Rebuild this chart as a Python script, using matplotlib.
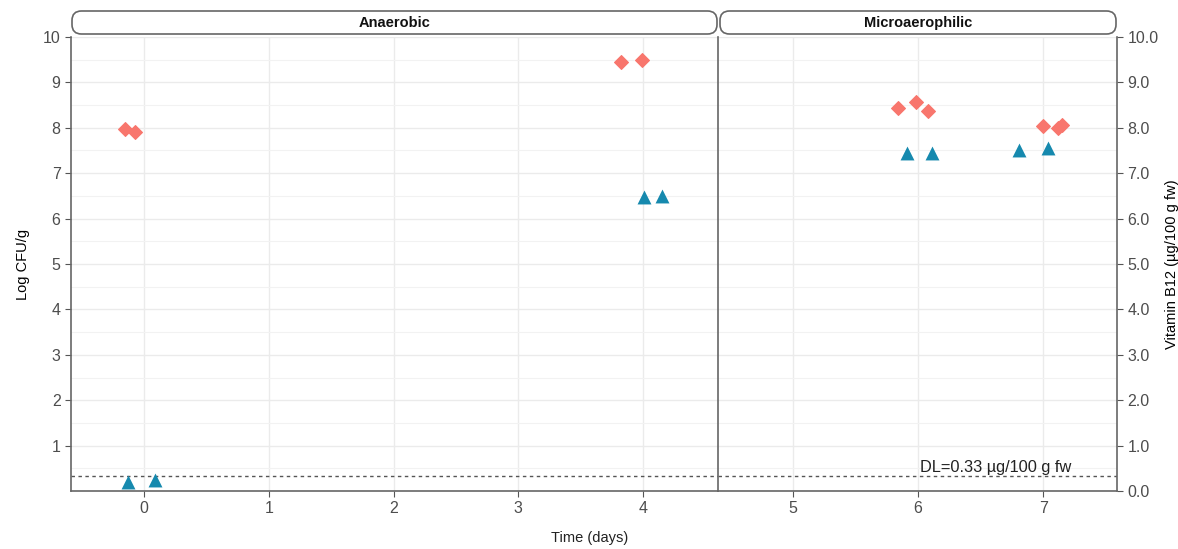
import matplotlib
matplotlib.use("Agg")
import matplotlib.pyplot as plt
from matplotlib.patches import FancyBboxPatch
from matplotlib.ticker import MultipleLocator, FormatStrFormatter

plt.rcParams['font.family'] = ['Liberation Sans', 'DejaVu Sans']

# Anaerobic panel
an_cfu_x = [-0.15, -0.07, 3.82, 3.99]
an_cfu_y = [7.97, 7.91, 9.46, 9.50]
an_b12_x = [-0.13, 0.09, 4.01, 4.15]
an_b12_y = [0.20, 0.25, 6.48, 6.50]

# Microaerophilic panel
mi_cfu_x = [5.84, 5.98, 6.08, 7.00, 7.12, 7.15]
mi_cfu_y = [8.43, 8.57, 8.38, 8.05, 7.99, 8.06]
mi_b12_x = [5.91, 6.11, 6.81, 7.04]
mi_b12_y = [7.45, 7.45, 7.50, 7.55]

panels = ['Anaerobic', 'Microaerophilic']
dl_value = 0.33
dl_label = 'DL=0.33 µg/100 g fw'

red = '#F8766D'
blue = '#1689AE'
grey = '#4D4D4D'
W, H = 1178, 549

fig = plt.figure(figsize=(W / 100, H / 100), dpi=100)

def px_axes(x0, x1, y_top, y_bot):
    return fig.add_axes([x0 / W, (H - y_bot) / H, (x1 - x0) / W, (y_bot - y_top) / H])

ax1 = px_axes(71, 718, 37, 491)
ax2 = px_axes(718, 1117, 37, 491)

ax1.set_xlim(-0.585, 4.6)
ax2.set_xlim(4.4, 7.59)

for ax in (ax1, ax2):
    ax.set_ylim(0, 10)
    ax.set_axisbelow(True)
    ax.xaxis.set_major_locator(MultipleLocator(1))
    ax.yaxis.set_major_locator(MultipleLocator(1))
    ax.yaxis.set_minor_locator(MultipleLocator(0.5))
    ax.grid(True, which='major', color='#EBEBEB', lw=1.0)
    ax.grid(True, which='minor', axis='y', color='#F2F2F2', lw=0.8)
    ax.tick_params(which='minor', length=0)
    ax.tick_params(which='major', length=4, color='#555555', labelcolor=grey, labelsize=11.5)
    ax.spines['top'].set_visible(False)
    for s in ax.spines.values():
        s.set_color('#666666')
        s.set_linewidth(1.2)
    ax.axhline(dl_value, color='#555555', ls=(0, (2.5, 2.5)), lw=1.0)

ax1.spines['right'].set_visible(False)
ax1.set_yticks(range(1, 11))
ax1.scatter(an_cfu_x, an_cfu_y, marker='D', s=50, color=red, zorder=3, linewidths=0.8, edgecolors=red)
ax1.scatter(an_b12_x, an_b12_y, marker='^', s=100, color=blue, zorder=3, linewidths=0, clip_on=False)
ax1.set_ylabel('Log CFU/g', fontsize=10.5)
ax1.yaxis.set_label_coords((30 - 71) / 647, 0.5)

ax2.yaxis.tick_right()
ax2.yaxis.set_label_position('right')
ax2.set_yticks(range(0, 11))
ax2.yaxis.set_major_formatter(FormatStrFormatter('%.1f'))
ax2.tick_params(axis='y', which='both', left=False)
ax2.scatter(mi_cfu_x, mi_cfu_y, marker='D', s=50, color=red, zorder=3, linewidths=0.8, edgecolors=red)
ax2.scatter(mi_b12_x, mi_b12_y, marker='^', s=100, color=blue, zorder=3, linewidths=0)
ax2.set_ylabel('Vitamin B12 (µg/100 g fw)', fontsize=10.5, rotation=90)
ax2.yaxis.set_label_coords((1165 - 718) / 399, 0.5)
ax2.text(6.62, 0.42, dl_label, ha='center', va='baseline', fontsize=11.8, color='#222222')

fig.text(590 / W, 1 - 538 / H, 'Time (days)', ha='center', va='center', fontsize=10.5, color='#222222')

# facet strips
for (x0, x1), name in zip([(72, 717), (720, 1116)], panels):
    box = FancyBboxPatch((x0 / W, 1 - 34 / H), (x1 - x0) / W, 23 / H,
                         boxstyle='round,pad=0,rounding_size=0.008',
                         transform=fig.transFigure, facecolor='white',
                         edgecolor='#666666', lw=1.2, mutation_aspect=W / H)
    fig.patches.append(box)
    fig.text((x0 + x1) / 2 / W, 1 - 23 / H, name, ha='center', va='center',
             fontsize=10.5, fontweight='bold', color='#111111')

fig.savefig('out.png', dpi=100)
